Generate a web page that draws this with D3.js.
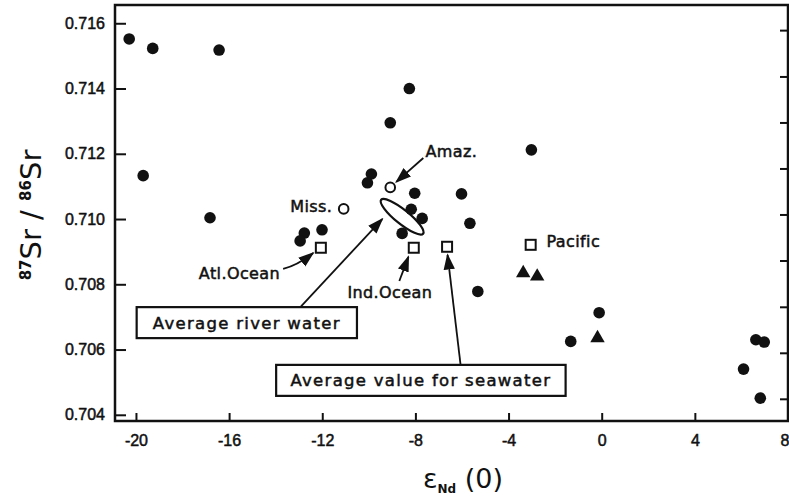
<!DOCTYPE html>
<html>
<head>
<meta charset="utf-8">
<script src="https://d3js.org/d3.v7.min.js"></script>
<style>
  body { margin: 0; background: #fff; }
  svg { font-family: "DejaVu Sans", sans-serif; }
  .lbl { font-size: 16px; fill: #111; stroke: #111; stroke-width: 0.5; }
</style>
</head>
<body>
<script>
// eNd(0) and 87Sr/86Sr
var filledX = [-20.29, -19.28, -16.43, -19.69, -16.82, -9.08, -8.26, -3.02, -8.03, -6.02, -8.18, -7.71, -5.66, -8.57,
               -9.89, -10.06, -12.77, -12.95, -12.01, -5.32, -0.11, -1.33, 6.62, 6.98, 6.09, 6.81];
var filledY = [0.71552, 0.71523, 0.71518, 0.71133, 0.71004, 0.71295, 0.71400, 0.71212, 0.71079, 0.71077, 0.71030, 0.71002, 0.70987, 0.70956,
               0.71138, 0.71111, 0.70957, 0.70933, 0.70967, 0.70778, 0.70713, 0.70625, 0.70630, 0.70623, 0.70540, 0.70451];
var triX = [-3.37, -2.77, -0.18];
var triY = [0.70834, 0.70824, 0.70635];
var riverNames = ["Miss.", "Amaz."];
var riverX = [-11.08, -9.08];
var riverY = [0.71031, 0.71097];
var seaNames = ["Atl.Ocean", "Ind.Ocean", "Average", "Pacific"];
var seaX = [-12.06, -8.07, -6.64, -3.05];
var seaY = [0.70912, 0.70912, 0.70915, 0.70921];
var xTicks = [-20, -16, -12, -8, -4, 0, 4, 8];
var yTicks = [0.704, 0.706, 0.708, 0.710, 0.712, 0.714, 0.716];
var rightTicks = [0.70449, 0.70590, 0.70731, 0.70873, 0.71014, 0.71155, 0.71296, 0.71437, 0.71579];

var W = 789, H = 496;
var margin = {top: 5, right: 1, bottom: 75, left: 115};
var svg = d3.select("body").append("svg").attr("width", W).attr("height", H);

var x = d3.scaleLinear().domain([-20.9, 8]).range([margin.left, W - margin.right]);
var y = d3.scaleLinear().domain([0.70381, 0.71656]).range([H - margin.bottom, margin.top]);

// arrow head
svg.append("defs").append("marker")
  .attr("id", "ah").attr("viewBox", "0 0 10 10").attr("refX", 9).attr("refY", 5)
  .attr("markerWidth", 9).attr("markerHeight", 9).attr("orient", "auto")
  .append("path").attr("d", "M0,1.5L10,5L0,8.5Z").attr("fill", "#111");

// axes (ticks point inwards)
var gx = svg.append("g").attr("transform", "translate(0," + (H - margin.bottom) + ")")
  .call(d3.axisBottom(x).tickValues(xTicks).tickSize(-8).tickPadding(14)
    .tickFormat(function(d){ return d < 0 ? "-" + Math.abs(d) : d; }));
var gy = svg.append("g").attr("transform", "translate(" + margin.left + ",0)")
  .call(d3.axisLeft(y).tickValues(yTicks).tickSize(-11).tickPadding(10).tickFormat(d3.format(".3f")));
var gr = svg.append("g").attr("transform", "translate(" + (W - margin.right) + ",0)")
  .call(d3.axisRight(y).tickValues(rightTicks).tickSize(-8).tickFormat(""));
[gx, gy, gr].forEach(function(g){
  g.select(".domain").remove();
  g.selectAll(".tick line").attr("stroke", "#111").attr("stroke-width", 2);
  g.selectAll(".tick text").attr("class", "lbl").style("font-size", "16px");
});
// last x label sits on the right edge; keep it inside
gx.selectAll(".tick text").filter(function(d){ return d === 8; }).attr("text-anchor", "end").attr("dx", 1);

// frame
svg.append("rect").attr("x", x(-20.9)).attr("y", y(0.71656))
  .attr("width", x(8) - x(-20.9)).attr("height", y(0.70381) - y(0.71656))
  .attr("fill", "none").attr("stroke", "#111").attr("stroke-width", 2.5);

// average river water ellipse
var ex = -8.57, ey = 0.71007;
svg.append("ellipse").attr("cx", x(ex)).attr("cy", y(ey)).attr("rx", 27).attr("ry", 7)
  .attr("transform", "rotate(39," + x(ex) + "," + y(ey) + ")")
  .attr("fill", "#fff").attr("stroke", "#111").attr("stroke-width", 2.2);

// filled circles
svg.append("g").selectAll("circle").data(filledX).enter().append("circle")
  .attr("cx", function(d){ return x(d); })
  .attr("cy", function(d, i){ return y(filledY[i]); })
  .attr("r", 5.8).attr("fill", "#111");

// triangles
svg.append("g").selectAll("path").data(triX).enter().append("path")
  .attr("d", d3.symbol().type(d3.symbolTriangle).size(90))
  .attr("transform", function(d, i){ return "translate(" + x(d) + "," + y(triY[i]) + ")"; })
  .attr("fill", "#111");

// rivers (open circles)
svg.append("g").selectAll("circle").data(riverX).enter().append("circle")
  .attr("cx", function(d){ return x(d); })
  .attr("cy", function(d, i){ return y(riverY[i]); })
  .attr("r", 4.8).attr("fill", "#fff").attr("stroke", "#111").attr("stroke-width", 2);

// seawater (open squares)
svg.append("g").selectAll("rect").data(seaX).enter().append("rect")
  .attr("x", function(d){ return x(d) - 5; })
  .attr("y", function(d, i){ return y(seaY[i]) - 5; })
  .attr("width", 10).attr("height", 10)
  .attr("fill", "#fff").attr("stroke", "#111").attr("stroke-width", 2);

// text labels [text, x, y, anchor]
var labels = [
  ["Amaz.", -7.57, 0.71190, "start"],
  ["Miss.", -11.57, 0.71022, "end"],
  ["Atl.Ocean", -13.81, 0.70817, "end"],
  ["Ind.Ocean", -10.92, 0.70758, "start"],
  ["Pacific", -2.37, 0.70915, "start"]
];
svg.append("g").selectAll("text").data(labels).enter().append("text")
  .attr("class", "lbl")
  .attr("x", function(d){ return x(d[1]); })
  .attr("y", function(d){ return y(d[2]); })
  .attr("text-anchor", function(d){ return d[3]; })
  .style("letter-spacing", "0.4px")
  .text(function(d){ return d[0]; });

// arrows [x0, y0, x1, y1, bend]
var arrows = [
  [-7.66, 0.71187, -8.82, 0.71114, 0],
  [-13.68, 0.70847, -12.39, 0.70896, 4],
  [-8.69, 0.70810, -8.30, 0.70884, 0],
  [-13.29, 0.70703, -9.42, 0.71000, 0],
  [-6.06, 0.70553, -6.62, 0.70890, 0]
];
svg.append("g").selectAll("path").data(arrows).enter().append("path")
  .attr("d", function(d){
    var x0 = x(d[0]), y0 = y(d[1]), x1 = x(d[2]), y1 = y(d[3]);
    var mx = (x0 + x1) / 2, my = (y0 + y1) / 2 + d[4];
    return "M" + x0 + "," + y0 + "Q" + mx + "," + my + " " + x1 + "," + y1;
  })
  .attr("fill", "none").attr("stroke", "#111").attr("stroke-width", 1.8)
  .attr("marker-end", "url(#ah)");

// boxed notes [text, x0, x1, yTop, yBottom]
var boxes = [
  ["Average river water", -19.97, -10.51, 0.70730, 0.70635],
  ["Average value for seawater", -13.98, -1.55, 0.70553, 0.70458]
];
var gb = svg.append("g").selectAll("g").data(boxes).enter().append("g");
gb.append("rect")
  .attr("x", function(d){ return x(d[1]); })
  .attr("y", function(d){ return y(d[3]); })
  .attr("width", function(d){ return x(d[2]) - x(d[1]); })
  .attr("height", function(d){ return y(d[4]) - y(d[3]); })
  .attr("fill", "#fff").attr("stroke", "#111").attr("stroke-width", 2.2);
gb.append("text").attr("class", "lbl")
  .attr("x", function(d){ return (x(d[1]) + x(d[2])) / 2; })
  .attr("y", function(d){ return (y(d[3]) + y(d[4])) / 2 + 6; })
  .attr("text-anchor", "middle")
  .style("font-size", "16.5px").style("letter-spacing", "1.3px")
  .text(function(d){ return d[0]; });

// axis titles
var yt = svg.append("text").attr("transform", "translate(41," + ((margin.top + H - margin.bottom) / 2 + 2) + ") rotate(-90)")
  .attr("text-anchor", "middle").attr("fill", "#111").style("font-size", "29px");
yt.append("tspan").attr("dy", "-10").style("font-size", "15px").style("font-weight", "bold").text("87");
yt.append("tspan").attr("dy", "10").text("Sr / ");
yt.append("tspan").attr("dy", "-10").style("font-size", "15px").style("font-weight", "bold").text("86");
yt.append("tspan").attr("dy", "10").text("Sr");

var xt = svg.append("text").attr("x", 463).attr("y", 488)
  .attr("text-anchor", "middle").attr("fill", "#111").style("font-size", "27px");
xt.append("tspan").text("ε");
xt.append("tspan").attr("dy", "5").style("font-size", "12px").style("font-weight", "bold").text("Nd");
xt.append("tspan").attr("dy", "-5").text(" (0)");
</script>
</body>
</html>
